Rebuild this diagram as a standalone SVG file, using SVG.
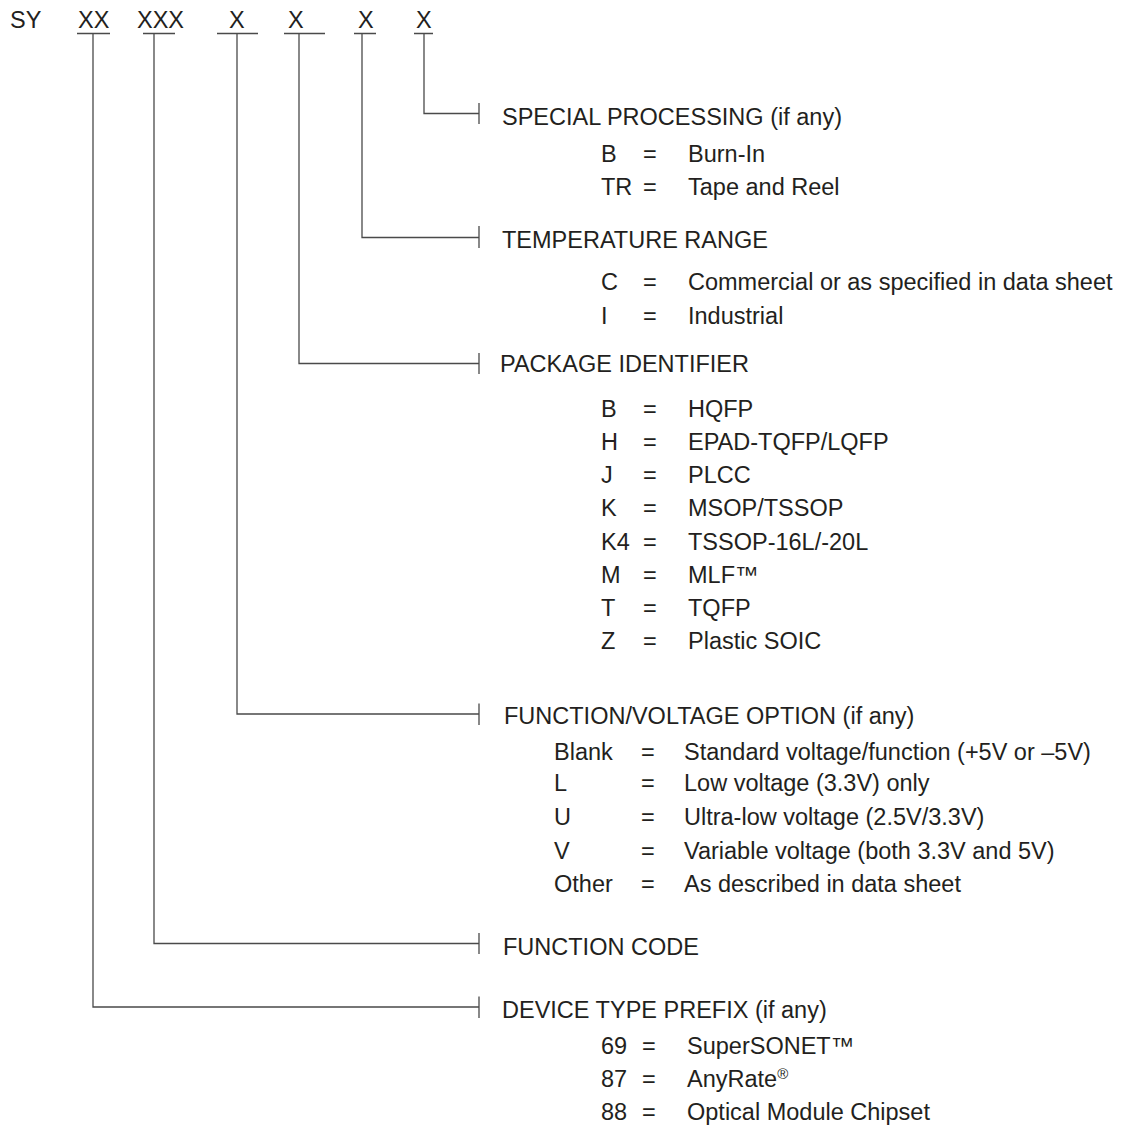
<svg xmlns="http://www.w3.org/2000/svg" width="1127" height="1126" viewBox="0 0 1127 1126">
  <style>
    text { font-family: "Liberation Sans", Arial, Helvetica, sans-serif; font-size: 23.5px; fill: #231f20; }
    .wire { fill: none; stroke: #4a4a4a; stroke-width: 1.3; }
    .sup { font-size: 15px; }
  </style>
  <rect width="1127" height="1126" fill="#ffffff"/>

  <!-- part number fields -->
  <g id="part-code">
    <text x="10" y="28">SY</text>
    <text x="78" y="28">XX</text>
    <text x="137" y="28">XXX</text>
    <text x="229" y="28">X</text>
    <text x="288" y="28">X</text>
    <text x="358" y="28">X</text>
    <text x="416" y="28">X</text>
  </g>

  <!-- leader lines from each field to its legend -->
  <g id="connectors" class="wire">
    <path d="M77 33.5H110M143 33.5H175M217 33.5H258M284 33.5H325M354 33.5H376M414 33.5H433"/>
    <path d="M424 33.5V113.5H479M479 103V124"/>
    <path d="M362 33.5V237.5H479M479 226V248"/>
    <path d="M299 33.5V363.5H479M479 353V374"/>
    <path d="M237 33.5V714H479M479 703.5V725"/>
    <path d="M154 33.5V943.5H479M479 933V954"/>
    <path d="M93 33.5V1007H479M479 996.5V1018"/>
  </g>

  <g id="special-processing">
    <text x="502" y="125">SPECIAL PROCESSING (if any)</text>
    <text x="601" y="161.5">B</text><text x="643" y="161.5">=</text><text x="688" y="161.5">Burn-In</text>
    <text x="601" y="194.5">TR</text><text x="643" y="194.5">=</text><text x="688" y="194.5">Tape and Reel</text>
  </g>

  <g id="temperature-range">
    <text x="502" y="248">TEMPERATURE RANGE</text>
    <text x="601" y="290">C</text><text x="643" y="290">=</text><text x="688" y="290">Commercial or as specified in data sheet</text>
    <text x="601" y="323.5">I</text><text x="643" y="323.5">=</text><text x="688" y="323.5">Industrial</text>
  </g>

  <g id="package-identifier">
    <text x="500" y="372">PACKAGE IDENTIFIER</text>
    <text x="601" y="416.5">B</text><text x="643" y="416.5">=</text><text x="688" y="416.5">HQFP</text>
    <text x="601" y="450">H</text><text x="643" y="450">=</text><text x="688" y="450">EPAD-TQFP/LQFP</text>
    <text x="601" y="483">J</text><text x="643" y="483">=</text><text x="688" y="483">PLCC</text>
    <text x="601" y="516">K</text><text x="643" y="516">=</text><text x="688" y="516">MSOP/TSSOP</text>
    <text x="601" y="549.5">K4</text><text x="643" y="549.5">=</text><text x="688" y="549.5">TSSOP-16L/-20L</text>
    <text x="601" y="582.5">M</text><text x="643" y="582.5">=</text><text x="688" y="582.5">MLF™</text>
    <text x="601" y="615.5">T</text><text x="643" y="615.5">=</text><text x="688" y="615.5">TQFP</text>
    <text x="601" y="649">Z</text><text x="643" y="649">=</text><text x="688" y="649">Plastic SOIC</text>
  </g>

  <g id="function-voltage-option">
    <text x="504" y="724">FUNCTION/VOLTAGE OPTION (if any)</text>
    <text x="554" y="760">Blank</text><text x="641" y="760">=</text><text x="684" y="760">Standard voltage/function (+5V or –5V)</text>
    <text x="554" y="791">L</text><text x="641" y="791">=</text><text x="684" y="791">Low voltage (3.3V) only</text>
    <text x="554" y="825">U</text><text x="641" y="825">=</text><text x="684" y="825">Ultra-low voltage (2.5V/3.3V)</text>
    <text x="554" y="858.5">V</text><text x="641" y="858.5">=</text><text x="684" y="858.5">Variable voltage (both 3.3V and 5V)</text>
    <text x="554" y="892">Other</text><text x="641" y="892">=</text><text x="684" y="892">As described in data sheet</text>
  </g>

  <g id="function-code">
    <text x="503" y="955">FUNCTION CODE</text>
  </g>

  <g id="device-type-prefix">
    <text x="502" y="1018">DEVICE TYPE PREFIX (if any)</text>
    <text x="601" y="1054">69</text><text x="642" y="1054">=</text><text x="687" y="1054">SuperSONET™</text>
    <text x="601" y="1087">87</text><text x="642" y="1087">=</text><text x="687" y="1087">AnyRate<tspan class="sup" dy="-8">®</tspan></text>
    <text x="601" y="1120">88</text><text x="642" y="1120">=</text><text x="687" y="1120">Optical Module Chipset</text>
  </g>
</svg>
